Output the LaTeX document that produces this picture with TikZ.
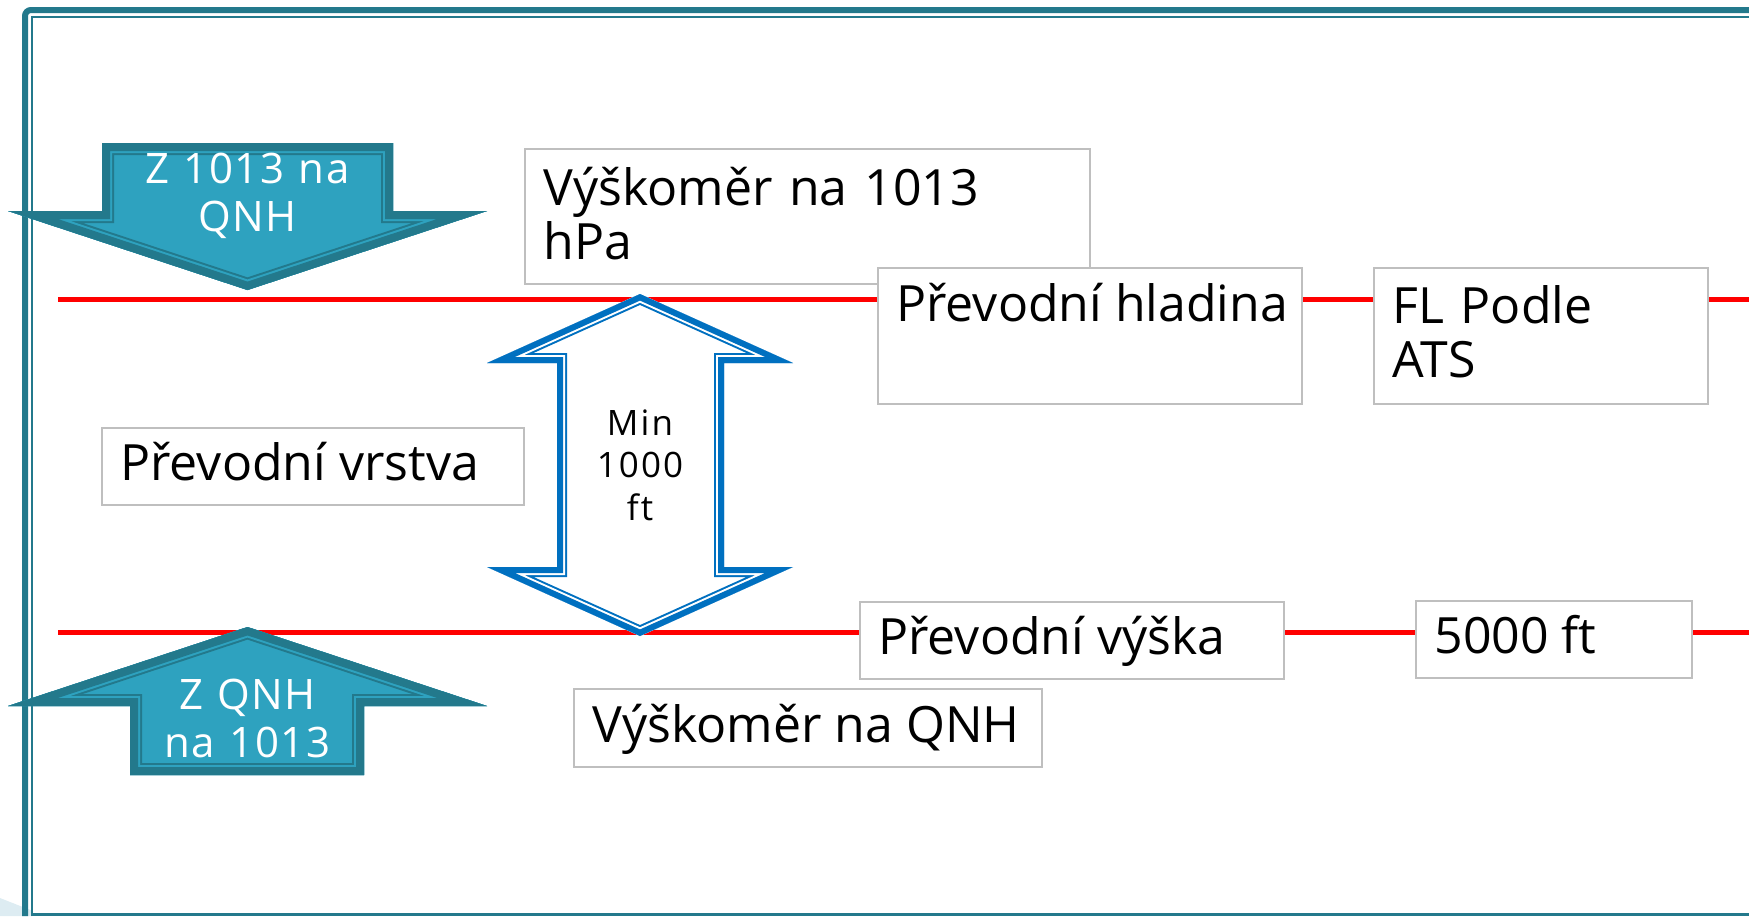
\documentclass[tikz,border=0pt]{standalone}
\usepackage{fontspec}
\setmainfont{Open Sans}
\usepackage{tikz}
\usetikzlibrary{calc}
\definecolor{petrolej}{HTML}{23798C}
\definecolor{tyrkys}{HTML}{2EA2BF}
\definecolor{modra}{HTML}{0070C0}
\definecolor{cervena}{HTML}{FF0000}
\definecolor{seda}{HTML}{BFBFBF}
\definecolor{svetla}{HTML}{DDECF2}
% blokova sipka: vypln, barva okraje, tri sirky pasu, obrys
\newcommand{\sipka}[6]{%
  \fill[#1] #6;
  \begin{scope}
    \clip #6;
    \draw[#2,line width=#3] #6;
    \draw[#1,line width=#4] #6;
    \draw[#2,line width=#5] #6;
  \end{scope}}
\tikzset{
  pole/.style={draw=seda,fill=white,line width=1pt,anchor=north west,inner sep=0pt},
  popis/.style={font=\fontsize{25}{27}\selectfont,inner sep=0pt,anchor=base west},
  popisbily/.style={font=\fontsize{21}{24}\selectfont\addfontfeature{LetterSpace=4},text=white,inner sep=0pt,align=center,text width=160pt,anchor=base},
  popismin/.style={font=\fontsize{17.5}{21.25}\selectfont\addfontfeature{LetterSpace=6},inner sep=0pt,align=center,text width=60pt,anchor=base},
  hladina/.style={cervena,line width=2.5pt},
}

\begin{document}
\begin{tikzpicture}[x=0.5pt,y=-0.5pt]
  \useasboundingbox (0,0) rectangle (1749,916);
  % ramecek
  \fill[svetla] (0,898) -- (33,911) -- (33,916) -- (0,916) -- cycle;
  \draw[petrolej,line width=3pt,rounded corners=3pt] (25,916) -- (25,10) -- (1749,10);
  \draw[petrolej,line width=1pt] (32,916) -- (32,17) -- (1749,17);
  \draw[petrolej,line width=1.5pt] (32,914.5) -- (1749,914.5);
  % hladiny
  \coordinate (h1a) at (58,299); \coordinate (h1b) at (1749,299);
  \coordinate (h2a) at (58,632); \coordinate (h2b) at (1749,632);
  \draw[hladina] (h1a) -- (h1b);
  \draw[hladina] (h2a) -- (h2b);
  % pole s texty
  \node[pole,minimum width=282.5pt,minimum height=67.5pt] (v1013) at (524,148) {};
  \node[popis,text width=250pt,align=left] (t1013) at ($(v1013.north west)+(19,57)$) {Výškoměr na 1013\\hPa};
  \node[pole,minimum width=212pt,minimum height=68pt] (hlad) at (877,267) {};
  \node[popis] (thlad) at ($(hlad.north west)+(19,54)$) {Převodní hladina};
  \node[pole,minimum width=167pt,minimum height=68pt] (ats) at (1373,267) {};
  \node[popis,text width=140pt,align=left] (tats) at ($(ats.north west)+(19,56)$) {FL Podle\\ATS};
  \node[pole,minimum width=211pt,minimum height=38.5pt] (vrst) at (101,427) {};
  \node[popis] (tvrst) at ($(vrst.north west)+(19,53)$) {Převodní vrstva};
  \node[pole,minimum width=212pt,minimum height=38.5pt] (vys) at (859,601) {};
  \node[popis] (tvys) at ($(vys.north west)+(19,53)$) {Převodní výška};
  \node[pole,minimum width=138pt,minimum height=38.5pt] (ft) at (1415,600) {};
  \node[popis] (tft) at ($(ft.north west)+(19,53)$) {5000 ft};
  \node[pole,minimum width=234pt,minimum height=39pt] (vqnh) at (573,688) {};
  \node[popis] (tvqnh) at ($(vqnh.north west)+(19,54)$) {Výškoměr na QNH};
  % sipky
  \sipka{tyrkys}{petrolej}{12pt}{10pt}{8pt}{(102,143) -- (393,143) -- (393,211) -- (487,211) -- (247.5,290) -- (8,211) -- (102,211) -- cycle}
  \node[popisbily] (dolu) at (247.5,183) {Z 1013 na\\QNH};
  \sipka{tyrkys}{petrolej}{12pt}{10pt}{8pt}{(247.5,627) -- (487,706) -- (364,706) -- (364,775) -- (130,775) -- (130,706) -- (8,706) -- cycle}
  \node[popisbily] (nahoru) at (247.5,709) {Z QNH\\na 1013};
  \sipka{white}{modra}{10pt}{8pt}{6pt}{(640,294) -- (793,363) -- (724,363) -- (724,567) -- (793,567) -- (640,636) -- (487,567) -- (557,567) -- (557,363) -- (487,363) -- cycle}
  \node[popismin] (min) at (640,435) {Min\\1000\\ft};
\end{tikzpicture}
\end{document}
